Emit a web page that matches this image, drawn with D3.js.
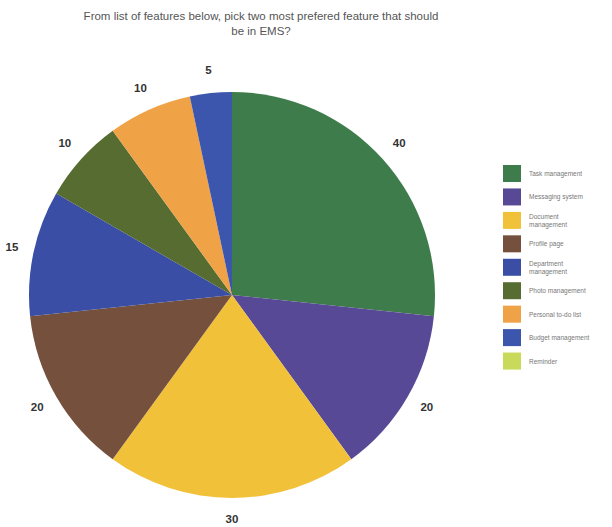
<!DOCTYPE html>
<html>
<head>
<meta charset="utf-8">
<script src="https://cdn.jsdelivr.net/npm/d3@7"></script>
<style>
  body { margin: 0; background: #fff; }
  text { font-family: "Liberation Sans", Arial, sans-serif; }
</style>
</head>
<body>
<script>
// survey answers
const features = ["Task management", "Messaging system", "Document management", "Profile page",
                  "Department management", "Photo management", "Personal to-do list",
                  "Budget management", "Reminder"];
const votes = [40, 20, 30, 20, 15, 10, 10, 5, 0];
const colors = ["#3e7d4b", "#584997", "#f2c13a", "#75513d", "#3a4ea6",
                "#566c30", "#f0a346", "#3c56ad", "#c9d95a"];
// legend lines (two long names wrap)
const legendLines = [["Task management"], ["Messaging system"], ["Document", "management"],
                     ["Profile page"], ["Department", "management"], ["Photo management"],
                     ["Personal to-do list"], ["Budget management"], ["Reminder"]];

const data = features.map((f, i) => ({ name: f, value: votes[i] }));

let svg = d3.select("body").append("svg")
  .attr("width", 612)
  .attr("height", 527);

// title
svg.append("g")
  .selectAll("text")
  .data(["From list of features below, pick two most prefered feature that should", "be in EMS?"])
  .enter()
  .append("text")
  .attr("x", 261)
  .attr("y", (d, i) => 20 + i * 15)
  .attr("text-anchor", "middle")
  .style("font-size", "11.5px")
  .style("fill", "#555")
  .text(d => d);

let color = d3.scaleOrdinal().domain(features).range(colors);

let pie = d3.pie().sort(null).value(d => d.value);
let arcs = pie(data);
let radius = 203;
let arc = d3.arc().innerRadius(0).outerRadius(radius);
let labelArc = d3.arc().innerRadius(radius + 22).outerRadius(radius + 22);

let g = svg.append("g").attr("transform", "translate(232, 295)");

g.selectAll("path")
  .data(arcs.filter(d => d.value > 0))
  .enter()
  .append("path")
  .attr("d", arc)
  .style("fill", d => color(d.data.name));

g.selectAll("text")
  .data(arcs.filter(d => d.value > 0))
  .enter()
  .append("text")
  .attr("transform", d => "translate(" + labelArc.centroid(d) + ")")
  .attr("text-anchor", "middle")
  .style("dominant-baseline", "middle")
  .style("font-size", "11.5px")
  .style("font-weight", "bold")
  .style("fill", "#333")
  .text(d => d.data.value);

// legend
let legendY = d3.scaleBand().domain(features).range([162, 373]).paddingInner(0);

let legend = svg.append("g")
  .selectAll("g")
  .data(features)
  .enter()
  .append("g")
  .attr("transform", d => "translate(503," + legendY(d) + ")");

legend.append("rect")
  .attr("y", 3)
  .attr("width", 18)
  .attr("height", 17)
  .style("fill", d => color(d));

legend.append("text")
  .attr("x", 26)
  .attr("y", 12)
  .style("font-size", "6.5px")
  .style("fill", "#777")
  .style("dominant-baseline", "middle")
  .each(function (d, i) {
    let lines = legendLines[i];
    d3.select(this).selectAll("tspan")
      .data(lines)
      .enter()
      .append("tspan")
      .attr("x", 26)
      .attr("dy", (l, j) => j === 0 ? (lines.length > 1 ? -3.5 : 0) : 7.5)
      .text(l => l);
  });
</script>
</body>
</html>
